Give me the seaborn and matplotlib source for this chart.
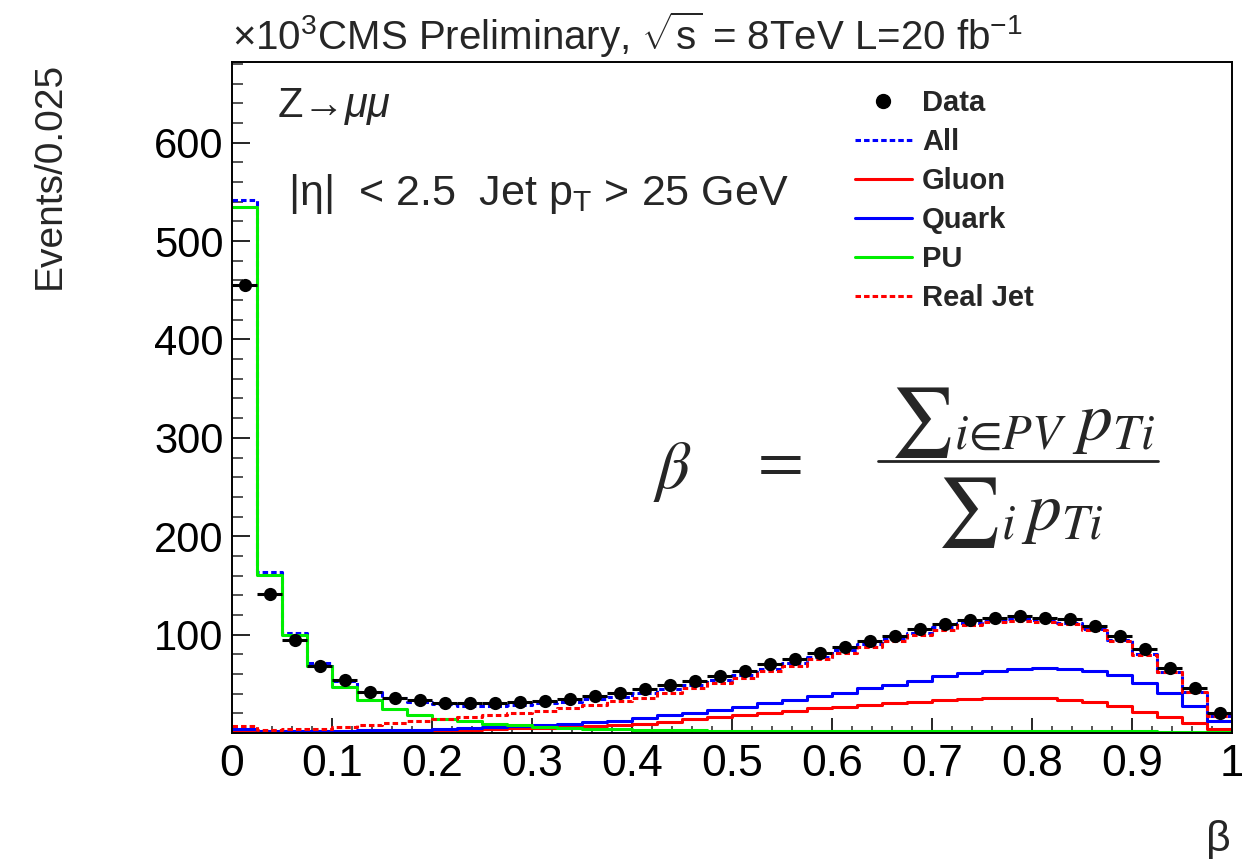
import numpy as np
import pandas as pd
import matplotlib
matplotlib.use("Agg")
import matplotlib.pyplot as plt
import seaborn as sns
from matplotlib.lines import Line2D
from matplotlib.ticker import MultipleLocator, FixedLocator, FuncFormatter

# ---------------- data (units of 10^3 events per 0.025) ----------------
bin_width = 0.025
bin_edges = [round(i * bin_width, 4) for i in range(41)]
bin_centers = [round(e + bin_width / 2, 5) for e in bin_edges[:-1]]

data_vals = [455, 141, 95, 68.5, 54, 42, 36, 33.5, 31, 30,
             30.8, 32, 33, 35, 37.8, 41, 44.8, 48.8, 53.2, 58,
             62.7, 69.9, 75, 81.4, 87.5, 93.6, 99, 105.5, 110.9, 115,
             117.3, 119, 117.3, 115.6, 108.8, 99, 85, 66.5, 45.4, 20]

all_vals = [542, 164, 102, 71, 52.5, 42, 35.5, 32, 29.5, 27.8,
            27, 28.5, 30, 32, 34.5, 37, 40.5, 44.5, 49, 54,
            59, 65.5, 71, 77.5, 84, 90, 95.8, 102, 107.5, 111.5,
            114, 115.5, 114.5, 112, 105.5, 95, 80, 62.5, 42, 17.5]

gluon_vals = [2.4, 1.1, 1.5, 1.6, 1.7, 1.8, 2, 2.3, 2.8, 3.4,
              4, 4.6, 5.3, 6.2, 7.1, 8.1, 9.2, 11.5, 13.9, 16.3,
              18.3, 20.7, 22.7, 25.1, 26.8, 28.5, 30.5, 31.5, 33.2, 34.6,
              35.6, 36, 35.6, 33.6, 31.5, 27.5, 21.7, 16.6, 9.8, 3.7]

quark_vals = [4, 2, 2.3, 2.3, 2.4, 2.6, 3, 3.3, 3.8, 4.6,
              5.6, 6.8, 8, 9.4, 10.9, 12.2, 15.6, 18, 20.7, 23.4,
              26.8, 30.2, 33.6, 37.6, 41, 45.4, 49, 53, 58, 60.7,
              63.4, 65.4, 66.5, 65.4, 63, 58.7, 50.5, 41, 27.8, 12.5]

pu_vals = [535, 160.5, 99.7, 68.5, 46.5, 33.5, 24.4, 18.5, 14, 11.8,
           9.3, 7.8, 6.4, 5, 4.2, 3.6, 3.2, 2.9, 2.7, 2.5,
           2.4, 2.3, 2.2, 2.1, 2.0, 2.0, 1.9, 1.9, 1.8, 1.8,
           1.8, 1.7, 1.7, 1.7, 1.6, 1.6, 1.6, 1.5, 1.5, 1.4]

realjet_vals = [7.4, 3, 3.7, 4.4, 5.8, 8, 10, 11.8, 14, 16.5,
                18.5, 20.7, 22.8, 25.2, 28.3, 32.6, 36, 40.3, 45.4, 51.2,
                56.3, 63, 68.5, 75, 81, 87.8, 93.9, 99.7, 105, 109.5,
                112.5, 114, 113.3, 111, 104.5, 94, 79.5, 62, 41.5, 17]

y_major_ticks = [100, 200, 300, 400, 500, 600]

# ---------------- style ----------------
sns.set_theme(style="ticks")
plt.rcParams['font.family'] = ['Liberation Sans', 'DejaVu Sans']
plt.rcParams['mathtext.fontset'] = 'custom'
plt.rcParams['mathtext.rm'] = 'Liberation Sans'
plt.rcParams['mathtext.it'] = 'Liberation Sans:italic'
plt.rcParams['mathtext.bf'] = 'Liberation Sans:bold'

W, H = 1242, 859
fig = plt.figure(figsize=(W / 100, H / 100), dpi=100)
ax = fig.add_axes([232 / W, 1 - 733 / H, 1000 / W, 671 / H])


def fx(px):
    return px / W


def fy(py):
    return 1 - py / H


df = pd.DataFrame({
    'beta': bin_centers,
    'All': all_vals,
    'Gluon': gluon_vals,
    'Quark': quark_vals,
    'PU': pu_vals,
    'RealJet': realjet_vals,
    'Data': data_vals,
})

LW = 2.2
DASH = (0, (1.8, 1.0))
series = [
    ('All', 'blue', DASH),
    ('Gluon', 'red', '-'),
    ('Quark', 'blue', '-'),
    ('PU', '#00ee00', '-'),
    ('RealJet', 'red', DASH),
]
for col, color, ls in series:
    sns.histplot(data=df, x='beta', weights=col, bins=bin_edges,
                 element='step', fill=False, color=color,
                 linewidth=LW, linestyle=ls, ax=ax)

# data points with horizontal bin-width bars
ax.errorbar(df['beta'], df['Data'], xerr=bin_width / 2, fmt='none',
            ecolor='black', elinewidth=2.2, capsize=0, zorder=6)
sns.scatterplot(data=df, x='beta', y='Data', color='black', s=90,
                edgecolor='black', linewidth=0, marker='o', ax=ax, zorder=7)

ax.set_xlim(0, 1)
ax.set_ylim(0, 682)
ax.set_xlabel('')
ax.set_ylabel('')

ax.xaxis.set_major_locator(MultipleLocator(0.1))
ax.xaxis.set_minor_locator(MultipleLocator(0.02))
ax.xaxis.set_major_formatter(FuncFormatter(lambda v, p: f"{v:g}"))
ax.yaxis.set_major_locator(FixedLocator(y_major_ticks))
ax.yaxis.set_minor_locator(MultipleLocator(20))

ax.tick_params(axis='x', which='major', direction='in', length=11, width=1.2,
               pad=8, labelsize=32, colors='black')
ax.tick_params(axis='x', which='minor', direction='in', length=5, width=1.1)
ax.tick_params(axis='y', which='major', direction='in', length=13, width=1.2,
               pad=6, labelsize=30, colors='black')
ax.tick_params(axis='y', which='minor', direction='in', length=8, width=1.1)
for sp in ax.spines.values():
    sp.set_color('black')
    sp.set_linewidth(1.4)
ax.grid(False)

# ---------------- legend ----------------
handles = [
    Line2D([], [], marker='o', color='black', linestyle='none', markersize=10),
    Line2D([], [], color='blue', lw=LW, linestyle=DASH),
    Line2D([], [], color='red', lw=LW),
    Line2D([], [], color='blue', lw=LW),
    Line2D([], [], color='#00ee00', lw=LW),
    Line2D([], [], color='red', lw=LW, linestyle=DASH),
]
labels = ['Data', 'All', 'Gluon', 'Quark', 'PU', 'Real Jet']
ax.legend(handles, labels, loc='upper left', bbox_to_anchor=(fx(855), fy(89)),
          bbox_transform=fig.transFigure, frameon=False, borderpad=0,
          borderaxespad=0, handlelength=1.95, handletextpad=0.34,
          labelspacing=0.38, prop={'weight': 'bold', 'size': 21})

# ---------------- texts ----------------
fig.text(fx(232), fy(50), r"×10$^{3}$CMS Preliminary, $\sqrt{\rm s}$ = 8TeV L=20 fb$^{-1}$",
         fontsize=29, ha='left', va='baseline')
fig.text(fx(50), fy(62), "Events/0.025", rotation=90, ha='center', va='top',
         fontsize=28)
fig.text(fx(1218), fy(840), "β", ha='center', va='center', fontsize=31)
fig.text(fx(277), fy(117), r"Z→$\mu\mu$", fontsize=30, ha='left', va='baseline')
fig.text(fx(288), fy(205), r"|η|  < 2.5  Jet p$_{\rm T}$ > 25 GeV", fontsize=31,
         ha='left', va='baseline')

# formula
fig.text(fx(672), fy(472), r"$\beta$", fontsize=48, ha='center', va='center',
         math_fontfamily='stix')
fig.text(fx(775), fy(463), r"$=$", fontsize=48, ha='center', va='center',
         math_fontfamily='stix')
fig.text(fx(1022), fy(423), r"$∑_{i∈PV}\; p_{Ti}$", fontsize=50,
         ha='center', va='center', math_fontfamily='stix')
fig.add_artist(Line2D([fx(878), fx(1158)], [fy(461), fy(461)], color='#222222',
                      lw=2.0, transform=fig.transFigure))
fig.text(fx(1020), fy(512), r"$∑_{i}\, p_{Ti}$", fontsize=50,
         ha='center', va='center', math_fontfamily='stix')

fig.savefig("out.png", dpi=100)
